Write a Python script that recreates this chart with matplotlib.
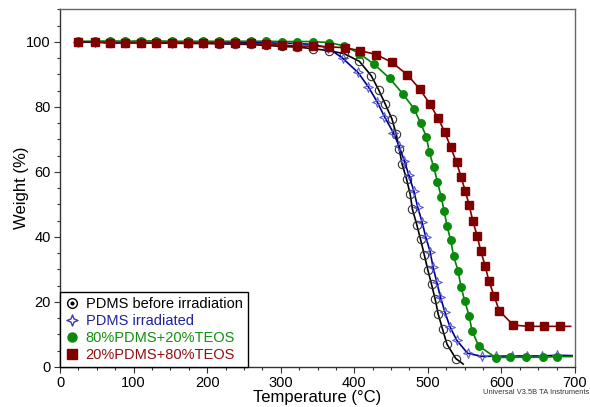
import matplotlib
matplotlib.use("Agg")
import matplotlib.pyplot as plt
from matplotlib.lines import Line2D
from matplotlib.path import Path
from matplotlib.ticker import MultipleLocator

# TGA curves (temperature in C, weight in %)
# last point of every series is the end of the trace (no marker)
pdms_t = [25, 47, 68, 89, 110, 131, 152, 174, 195, 216, 238, 259, 280, 302, 322,
          344, 365, 386, 407, 423, 433, 442, 451, 457, 461, 465, 471, 476, 479,
          485, 490, 495, 500, 505, 510, 514, 520, 526, 538, 548]
pdms_w = [100.0, 100.0, 99.8, 99.7, 99.7, 99.6, 99.6, 99.5, 99.5, 99.4, 99.3, 99.2,
          98.9, 98.6, 98.4, 97.9, 97.3, 96.4, 94.0, 89.6, 85.3, 80.9, 76.4, 71.6,
          67.0, 62.4, 57.8, 53.1, 48.5, 43.7, 39.3, 34.6, 29.8, 25.4, 20.8, 16.3,
          11.6, 7.0, 2.6, 0.9]

irr_t = [25, 47, 68, 89, 110, 131, 152, 174, 195, 216, 238, 259, 280, 302, 322,
         344, 364, 384, 405, 419, 431, 441, 453, 461, 468, 474, 481, 486, 492, 497,
         503, 507, 512, 517, 523, 530, 539, 554, 573, 593, 614, 635, 655, 676, 696]
irr_w = [99.9, 99.9, 99.9, 99.9, 99.9, 99.9, 99.8, 99.8, 99.8, 99.8, 99.8, 99.7,
         99.7, 99.6, 99.5, 99.2, 98.2, 95.0, 90.6, 86.2, 81.6, 77.0, 72.1, 67.9,
         63.4, 59.1, 54.1, 49.3, 44.7, 40.1, 35.5, 30.8, 26.2, 21.6, 17.0, 12.4,
         8.3, 4.2, 3.3, 3.3, 3.4, 3.4, 3.4, 3.6, 3.5]

teos20_t = [25, 47, 68, 89, 110, 131, 152, 174, 195, 216, 238, 259, 280, 302, 322,
            344, 365, 386, 407, 427, 448, 466, 481, 490, 498, 502, 508, 513, 518,
            522, 526, 531, 535, 541, 545, 550, 556, 560, 569, 592, 612, 634, 656,
            676, 696]
teos20_w = [100.2, 100.2, 100.3, 100.2, 100.3, 100.3, 100.2, 100.2, 100.2, 100.2,
            100.2, 100.2, 100.2, 100.1, 100.1, 100.1, 99.8, 98.8, 96.4, 93.1, 88.8,
            84.0, 79.5, 75.1, 70.8, 66.0, 61.4, 57.0, 52.4, 48.1, 43.4, 39.0, 34.1,
            29.6, 24.7, 20.4, 15.8, 11.2, 6.5, 2.9, 3.0, 3.0, 3.0, 3.2, 3.2]

teos80_t = [25, 47, 68, 89, 110, 131, 152, 174, 195, 216, 238, 259, 280, 302, 322,
            344, 365, 387, 408, 430, 451, 472, 489, 503, 514, 523, 531, 539, 545,
            551, 556, 561, 567, 572, 578, 583, 590, 597, 616, 637, 658, 680, 694]
teos80_w = [100.0, 100.0, 99.5, 99.7, 99.7, 99.7, 99.8, 99.7, 99.7, 99.7, 99.5, 99.5,
            99.2, 99.0, 98.7, 98.7, 98.5, 98.2, 97.3, 96.1, 93.7, 89.9, 85.5, 80.8,
            76.5, 72.2, 67.6, 62.9, 58.5, 54.0, 49.9, 45.0, 40.3, 35.6, 31.0, 26.4,
            21.9, 17.3, 12.9, 12.5, 12.5, 12.5, 12.5]

labels = ["PDMS before irradiation", "PDMS irradiated",
          "80%PDMS+20%TEOS", "20%PDMS+80%TEOS"]

plt.rcParams["font.family"] = ["Liberation Sans", "DejaVu Sans"]

# open four-point star like the TA software marker
star4 = Path([(0, 1), (0.28, 0.28), (1, 0), (0.28, -0.28), (0, -1),
              (-0.28, -0.28), (-1, 0), (-0.28, 0.28), (0, 1)],
             [Path.MOVETO] + [Path.LINETO] * 7 + [Path.CLOSEPOLY])

fig = plt.figure(figsize=(5.9, 4.07), dpi=100)
ax = fig.add_axes([0.1017, 0.0983, 0.8729, 0.8787])

ax.plot(pdms_t, pdms_w, color="black", lw=1.2, marker="o", ms=6.0,
        mfc="none", mec="#333333", mew=0.8, markevery=slice(0, -1))
ax.plot(irr_t, irr_w, color="#000090", lw=1.2, marker=star4, ms=7,
        mfc="none", mec="#5a5ad2", mew=0.8, markevery=slice(0, -1))
ax.plot(teos20_t, teos20_w, color="#008000", lw=1.2, marker="o", ms=5.4,
        mfc="#0a8a0a", mec="#0a8a0a", markevery=slice(0, -1))
ax.plot(teos80_t, teos80_w, color="#800000", lw=1.2, marker="s", ms=5.6,
        mfc="#800000", mec="#800000", markevery=slice(0, -1))

ax.set_xlim(0, 700)
ax.set_ylim(0, 110)
ax.xaxis.set_major_locator(MultipleLocator(100))
ax.xaxis.set_minor_locator(MultipleLocator(25))
ax.yaxis.set_major_locator(MultipleLocator(20))
ax.yaxis.set_minor_locator(MultipleLocator(5))
ax.tick_params(which="both", direction="out", top=False, right=False,
               labelsize=10.5, color="#333333", pad=2)
ax.tick_params(which="major", length=4.5, width=0.8)
ax.tick_params(which="minor", length=2.5, width=0.8)
for side in ["top", "right"]:
    ax.spines[side].set_color("#666666")
for side in ["left", "bottom"]:
    ax.spines[side].set_color("#333333")
for sp in ax.spines.values():
    sp.set_linewidth(1.0)

ax.set_xlabel("Temperature (\u00b0C)", fontsize=12, labelpad=0)
ax.set_ylabel("Weight (%)", fontsize=12, va="center")
ax.yaxis.set_label_coords(-0.074, 0.5)

# legend: markers only, text coloured like the series
h_pdms = (Line2D([], [], ls="none", marker="o", ms=7, mfc="none",
                 mec="black", mew=1.0),
          Line2D([], [], ls="none", marker="o", ms=2, mfc="black", mec="black"))
h_irr = Line2D([], [], ls="none", marker=star4, ms=8, mfc="none",
               mec="#3a3ac0", mew=1.0)
h_20 = Line2D([], [], ls="none", marker="o", ms=6.5, mfc="#0a8a0a", mec="#0a8a0a")
h_80 = Line2D([], [], ls="none", marker="s", ms=6.5, mfc="#800000", mec="#800000")
leg = ax.legend([h_pdms, h_irr, h_20, h_80], labels, loc="lower left",
                bbox_to_anchor=(0, 0), borderaxespad=0, fontsize=10.5,
                fancybox=False, framealpha=1, edgecolor="black",
                handlelength=0.9, handletextpad=0.5, labelspacing=0.2,
                borderpad=0.35)
leg.get_frame().set_linewidth(1.0)
for txt, col in zip(leg.get_texts(), ["black", "#2020a0", "#109010", "#901010"]):
    txt.set_color(col)

# software footer, sits at the right edge like in the original export
fig.text(0.998, 1 - 393 / 407, "Universal V3.5B TA Instruments",
         fontsize=5.4, color="#333333", va="center", ha="right")

fig.savefig("out.png", dpi=100)
